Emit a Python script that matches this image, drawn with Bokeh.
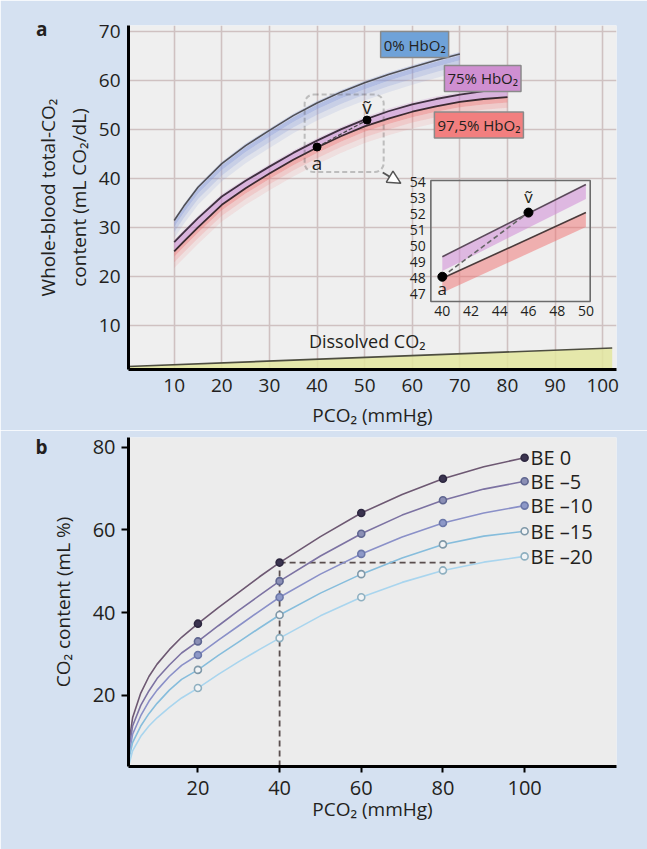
from bokeh.plotting import figure
from bokeh.layouts import column
from bokeh.models import Range1d, Label, BoxAnnotation, Arrow, NormalHead, FixedTicker, LinearAxis
from bokeh.core.properties import value
from bokeh.embed import file_html
from bokeh.resources import INLINE

# ---------------- data : panel a ----------------
hb_x_0 = [10, 12, 15, 20, 25, 30, 35, 40, 45, 50, 55, 60, 65, 70]
hb_0 = [31.4, 34.3, 38.2, 43.0, 46.7, 49.8, 52.8, 55.4, 57.6, 59.5, 61.2, 62.7, 64.1, 65.4]
hb_x_sat = [10, 12, 15, 20, 25, 30, 35, 40, 45, 50, 55, 60, 65, 70, 75, 80]
hb_75 = [27.0, 29.0, 31.9, 36.3, 39.5, 42.4, 45.2, 47.7, 50.0, 52.0, 53.7, 55.1, 56.2, 57.1, 57.8, 58.3]
hb_975 = [25.1, 27.1, 30.0, 34.6, 38.0, 41.0, 43.8, 46.3, 48.6, 50.6, 52.2, 53.6, 54.7, 55.6, 56.2, 56.6]
dissolved_x = [0, 102]
dissolved_y = [1.6, 5.4]
pt_a = [40.0, 46.4]
pt_v = [50.5, 51.9]
hb_labels = ["0% HbO₂", "75% HbO₂", "97,5% HbO₂"]
hb_label_x = [60.5, 74.8, 74.0]
hb_label_y = [67.3, 60.4, 50.9]
a_xticks = [10, 20, 30, 40, 50, 60, 70, 80, 90, 100]
a_yticks = [10, 20, 30, 40, 50, 60, 70]
zoom_box = [37.4, 54.0, 41.3, 57.1]          # left, right, bottom, top
zoom_arrow = [53.8, 41.2, 57.6, 39.0]        # x0, y0, x1, y1

# inset (zoomed) data
inset_xticks = [40, 42, 44, 46, 48, 50]
inset_yticks = [47, 48, 49, 50, 51, 52, 53, 54]
inset_line_x = [40, 50]
inset_upper = [49.35, 53.85]
inset_lower = [48.0, 52.1]
inset_a = [40.0, 48.1]
inset_v = [46.0, 52.1]
inset_frame = [39.2, 50.3, 46.56, 54.1]      # left, right, bottom, top

# ---------------- data : panel b ----------------
be_names = ["BE 0", "BE –5", "BE –10", "BE –15", "BE –20"]
be_pt_x = [20, 40, 60, 80, 100]
be0_pts = [37.3, 52.1, 64.1, 72.4, 77.5]
be5_pts = [33.0, 47.6, 59.1, 67.2, 71.8]
be10_pts = [29.7, 43.7, 54.2, 61.7, 65.9]
be15_pts = [26.1, 39.4, 49.3, 56.5, 59.7]
be20_pts = [21.7, 33.8, 43.7, 50.2, 53.6]
curve_x = [3.2, 4, 6, 8, 10, 13, 16, 20, 25, 30, 35, 40, 50, 60, 70, 80, 90, 100]
be0_curve = [9, 14.5, 20.5, 24.5, 27.5, 31, 34, 37.3, 41.2, 44.9, 48.6, 52.1, 58.4, 64.1, 68.6, 72.4, 75.3, 77.5]
be5_curve = [7.5, 12.5, 17.5, 21, 24, 27.3, 30.2, 33.0, 36.8, 40.5, 44.1, 47.6, 53.7, 59.1, 63.6, 67.2, 69.9, 71.8]
be10_curve = [6, 10.5, 15, 18.5, 21.2, 24.5, 27.2, 29.7, 33.3, 36.8, 40.3, 43.7, 49.3, 54.2, 58.3, 61.7, 64.1, 65.9]
be15_curve = [5, 8.5, 12.5, 15.5, 18, 21.2, 23.8, 26.1, 29.6, 32.9, 36.2, 39.4, 44.7, 49.3, 53.2, 56.5, 58.5, 59.7]
be20_curve = [3.5, 6.5, 10, 12.5, 14.5, 17, 19.3, 21.7, 25, 28.1, 31.0, 33.8, 39.2, 43.7, 47.3, 50.2, 52.2, 53.6]
b_xticks = [20, 40, 60, 80, 100]
b_yticks = [20, 40, 60, 80]
guide_x = 40
guide_end_x = 88

# ---------------- styles ----------------
FONT = "Open Sans"
INK = "#231f20"
PAGE_BG = "#d5e1f1"


def shift(vals, d):
    return [v - d for v in vals]


def style_axes(p, tick_size):
    p.axis.axis_line_color = "black"
    p.axis.axis_line_width = 3
    p.axis.minor_tick_line_color = None
    p.axis.major_label_text_font = FONT
    p.axis.major_label_text_font_size = tick_size
    p.axis.major_label_text_color = INK
    p.axis.axis_label_text_font = FONT
    p.axis.axis_label_text_font_size = "19px"
    p.axis.axis_label_text_font_style = "normal"
    p.axis.axis_label_text_color = INK


def panel_letter(p, letter, at_y, standoff):
    ax = LinearAxis(ticker=FixedTicker(ticks=[at_y]), major_label_overrides={at_y: letter},
                    axis_line_color=None, major_tick_line_color=None, minor_tick_line_color=None,
                    major_tick_in=0, major_tick_out=0, major_label_standoff=standoff,
                    major_label_text_font=FONT, major_label_text_font_size="19px",
                    major_label_text_font_style="bold", major_label_text_color=INK)
    p.add_layout(ax, "left")


# ================= panel a =================
xr_a = Range1d(0.4, 102.9)
yr_a = Range1d(1.0, 71.2)
pA = figure(width=647, height=430, x_range=xr_a, y_range=yr_a,
            output_backend="svg", toolbar_location=None,
            min_border_left=123, min_border_right=31, min_border_top=25, min_border_bottom=61,
            background_fill_color="#efefef", border_fill_color=PAGE_BG, outline_line_color=None)
style_axes(pA, "19px")
pA.xaxis.ticker = FixedTicker(ticks=a_xticks)
pA.yaxis.ticker = FixedTicker(ticks=a_yticks)
pA.xgrid.ticker = FixedTicker(ticks=a_xticks)
pA.ygrid.ticker = FixedTicker(ticks=a_yticks)
pA.grid.grid_line_color = "#cfc1c1"
pA.grid.grid_line_width = 1.6
pA.axis.major_tick_line_color = None
pA.axis.major_tick_out = 0
pA.axis.major_tick_in = 0
pA.xaxis.major_label_standoff = 9
pA.yaxis.major_label_standoff = 8
pA.xaxis.axis_label = "PCO₂ (mmHg)"
pA.yaxis.axis_label = "Whole-blood total-CO₂\ncontent (mL CO₂/dL)"
pA.xaxis.axis_label_standoff = 7
pA.yaxis.axis_label_standoff = 4
panel_letter(pA, "a", 70.5, -16)

# inset ranges: inset x 40..50 sits at main x 66.32..96.47, inset y 47..54 at main y 16.33..39.24
def mapped(r, d0, d1, m0, m1):
    k = (d1 - d0) / (m1 - m0)
    return Range1d(d0 + (r.start - m0) * k, d0 + (r.end - m0) * k)

pA.extra_x_ranges = {"inx": mapped(xr_a, 40, 50, 66.32, 96.47)}
pA.extra_y_ranges = {"iny": mapped(yr_a, 47, 54, 16.33, 39.24)}

# dissolved CO2
pA.varea(x=dissolved_x, y1=[0, 0], y2=dissolved_y, fill_color="#e3e69f", fill_alpha=0.85)
pA.line(dissolved_x, dissolved_y, line_color="#4d4d40", line_width=1.6)
pA.add_layout(Label(x=38.3, y=6.9, text="Dissolved CO₂", text_font=FONT, text_font_size="18px",
                    text_color=INK, text_baseline="middle", text_align="left"))

# glows
for d0, d1, a in [(-0.4, 0.3, 0.3), (0.3, 1.3, 0.55), (1.3, 2.4, 0.35), (2.4, 3.6, 0.15)]:
    pA.varea(x=hb_x_0, y1=shift(hb_0, d0), y2=shift(hb_0, d1), fill_color="#8195d8", fill_alpha=a)
pA.varea(x=hb_x_sat, y1=hb_975, y2=hb_75, fill_color="#c98ad0", fill_alpha=0.6)
pA.varea(x=hb_x_sat, y1=hb_75, y2=shift(hb_75, -0.5), fill_color="#c98ad0", fill_alpha=0.25)
for d0, d1, a in [(0.0, 1.1, 0.5), (1.1, 2.2, 0.28), (2.2, 3.4, 0.12)]:
    pA.varea(x=hb_x_sat, y1=shift(hb_975, d0), y2=shift(hb_975, d1), fill_color="#f06a6a", fill_alpha=a)

pA.line(hb_x_0, hb_0, line_color="#4f4f55", line_width=1.6)
pA.line(hb_x_sat, hb_75, line_color="#3f3040", line_width=1.8)
pA.line(hb_x_sat, hb_975, line_color="#3a2a30", line_width=1.8)

# a -> v
pA.line([pt_a[0], pt_v[0]], [pt_a[1], pt_v[1]], line_color="#444", line_width=1.2, line_dash="4 2")
pA.scatter([pt_a[0], pt_v[0]], [pt_a[1], pt_v[1]], size=8, fill_color="black", line_color="black")
pA.text(x=[pt_a[0]], y=[pt_a[1]], text=["a"], y_offset=16, text_font=value(FONT), text_font_size="19px",
        text_align="center", text_baseline="middle", text_color=INK)
pA.text(x=[pt_v[0]], y=[pt_v[1]], text=["ṽ"], y_offset=-13, text_font=value(FONT), text_font_size="19px",
        text_align="center", text_baseline="middle", text_color=INK)

# HbO2 tags
for t, x, y, c in zip(hb_labels, hb_label_x, hb_label_y, ["#6fa2d8", "#cf8fd1", "#f27f7f"]):
    pA.add_layout(Label(x=x, y=y, text=t, text_font=FONT, text_font_size="15px", text_color=INK,
                        text_align="center", text_baseline="middle", padding=3,
                        background_fill_color=c, border_line_color="#8a8a8a", border_line_width=1.5))

# zoom box and arrow
pA.add_layout(BoxAnnotation(left=zoom_box[0], right=zoom_box[1], bottom=zoom_box[2], top=zoom_box[3],
                            fill_alpha=0, line_color="#4a4a4a", line_width=2, line_dash="5 3", border_radius=9))
pA.add_layout(Arrow(end=NormalHead(size=13, fill_color="white", line_color="#555", line_width=1.5),
                    x_start=zoom_arrow[0], y_start=zoom_arrow[1], x_end=zoom_arrow[2], y_end=zoom_arrow[3],
                    line_color="#555", line_width=2))

# inset
IR = dict(x_range_name="inx", y_range_name="iny")
pA.varea(x=inset_line_x, y1=inset_upper, y2=shift(inset_upper, 0.9), fill_color="#cf8ad6", fill_alpha=0.55, **IR)
pA.varea(x=inset_line_x, y1=inset_lower, y2=shift(inset_lower, 0.9), fill_color="#f07070", fill_alpha=0.5, **IR)
pA.line(inset_line_x, inset_upper, line_color="#5a4a5a", line_width=1.6, **IR)
pA.line(inset_line_x, inset_lower, line_color="#4a3a3a", line_width=1.6, **IR)
pA.line([inset_a[0], inset_v[0]], [inset_a[1], inset_v[1]], line_color="#666", line_width=1.6,
        line_dash="5 3", **IR)
pA.scatter([inset_a[0], inset_v[0]], [inset_a[1], inset_v[1]], size=9, fill_color="black",
           line_color="black", **IR)
pA.text(x=[inset_a[0]], y=[inset_a[1]], text=["a"], y_offset=12, text_font=value(FONT), text_font_size="17px",
        text_align="center", text_baseline="middle", text_color=INK, **IR)
pA.text(x=[inset_v[0]], y=[inset_v[1]], text=["ṽ"], y_offset=-16, text_font=value(FONT), text_font_size="17px",
        text_align="center", text_baseline="middle", text_color=INK, **IR)
pA.quad(left=[inset_frame[0]], right=[inset_frame[1]], bottom=[inset_frame[2]], top=[inset_frame[3]],
        fill_color=None, line_color="#6b6b6b", line_width=1.6, **IR)
pA.text(x=inset_xticks, y=[inset_frame[2]] * len(inset_xticks), text=[str(t) for t in inset_xticks],
        y_offset=10, text_font=value(FONT), text_font_size="14px", text_align="center",
        text_baseline="middle", text_color=INK, **IR)
pA.text(x=[inset_frame[0]] * len(inset_yticks), y=inset_yticks, text=[str(t) for t in inset_yticks],
        x_offset=-5, text_font=value(FONT), text_font_size="14px", text_align="right",
        text_baseline="middle", text_color=INK, **IR)

# ================= panel b =================
pB = figure(width=647, height=419, x_range=Range1d(3, 122.5), y_range=Range1d(2.7, 82.4),
            output_backend="svg", toolbar_location=None,
            min_border_left=128, min_border_right=26, min_border_top=7, min_border_bottom=83,
            background_fill_color="#ececec", border_fill_color=PAGE_BG, outline_line_color=None)
style_axes(pB, "20px")
pB.grid.grid_line_color = None
pB.xaxis.ticker = FixedTicker(ticks=b_xticks)
pB.yaxis.ticker = FixedTicker(ticks=b_yticks)
pB.axis.major_tick_line_color = "black"
pB.axis.major_tick_line_width = 2
pB.axis.major_tick_in = 0
pB.yaxis.major_tick_out = 7
pB.xaxis.major_tick_out = 6
pB.xaxis.major_label_standoff = 8
pB.yaxis.major_label_standoff = 6
pB.xaxis.axis_label = "PCO₂ (mmHg)"
pB.yaxis.axis_label = "CO₂ content (mL %)"
pB.xaxis.axis_label_standoff = -2
pB.yaxis.axis_label_standoff = 14
panel_letter(pB, "b", 80, -1)

be_curves = [be0_curve, be5_curve, be10_curve, be15_curve, be20_curve]
be_pts = [be0_pts, be5_pts, be10_pts, be15_pts, be20_pts]
line_cols = ["#6d5872", "#7c72a2", "#8a90c8", "#86bddc", "#a9d5ee"]
fill_cols = ["#3b3450", "#8b8fb5", "#8d98c8", "#f2f4f6", "#f2f4f6"]
edge_cols = ["#2e2840", "#5f6690", "#6b77a8", "#7f98a8", "#8fb0c0"]

# guide lines
pB.line([guide_x, guide_x], [2.7, be0_pts[1]], line_color="#5a4e4e", line_width=1.8, line_dash="6 4")
pB.line([guide_x, guide_end_x], [be0_pts[1], be0_pts[1]], line_color="#5a4e4e", line_width=1.8, line_dash="6 4")

for cv, pts, lc, fc, ec, nm in zip(be_curves, be_pts, line_cols, fill_cols, edge_cols, be_names):
    pB.line(curve_x, cv, line_color=lc, line_width=1.6)
    pB.scatter(be_pt_x, pts, size=7, fill_color=fc, line_color=ec, line_width=1.6)
    pB.text(x=[be_pt_x[-1]], y=[pts[-1]], text=[nm], x_offset=6, text_font=value(FONT),
            text_font_size="20px", text_align="left", text_baseline="middle", text_color=INK)

layout = column(pA, pB, spacing=0)
open("out.html", "w").write(file_html(layout, INLINE))
